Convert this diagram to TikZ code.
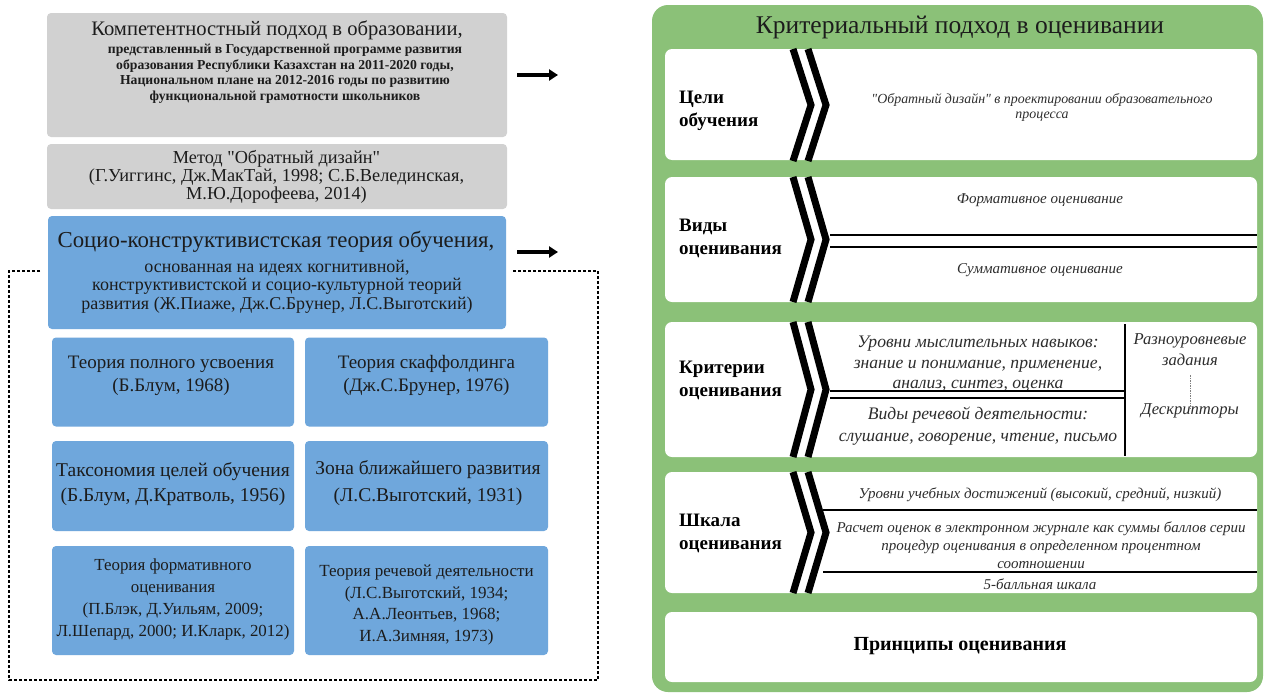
\documentclass[tikz,border=0pt]{standalone}
\usepackage{fontspec}
\setmainfont{Liberation Serif}[Ligatures=TeXOff]
\usetikzlibrary{arrows.meta}
\definecolor{gbox}{RGB}{209,209,209}
\definecolor{bbox}{RGB}{111,167,220}
\definecolor{grn}{RGB}{139,193,120}
\definecolor{txt}{RGB}{28,28,28}
\definecolor{itx}{RGB}{45,45,45}
\newcommand\fsz[2]{\fontsize{#1}{#2}\selectfont}
\newcommand\dq{"}
\tikzset{
  graybox/.style={fill=gbox, rounded corners=4pt, inner sep=0pt},
  bluebox/.style={fill=bbox, rounded corners=4pt, inner sep=0pt},
  rowbox/.style={fill=white, rounded corners=7pt, inner sep=0pt, minimum width=592pt},
  txtnode/.style={align=center, inner sep=0pt, text=txt},
  itnode/.style={align=center, inner sep=0pt, text=itx, font=\itshape},
  rowlabel/.style={align=left, anchor=west, inner sep=0pt, text=black, font=\bfseries\fsz{19}{23}},
  chev/.style={line width=7pt, black, miter limit=20},
  sepline/.style={line width=1.6pt, black},
  bigarrow/.style={line width=3.6pt, -{Triangle[length=9pt,width=11pt]}},
  dotline/.style={line width=2.6pt, dash pattern=on 2.6pt off 2.4pt}
}
\begin{document}
\begin{tikzpicture}[x=1pt,y=-1pt]
\useasboundingbox (0,0) rectangle (1273,696);
\fill[white] (0,0) rectangle (1273,696);

% ---------- left column ----------
\node[graybox, minimum width=460pt, minimum height=124pt] (g1) at (277,75) {};
\node[txtnode, font=\fsz{20.6}{24}] (g1t) at (277,30) {Компетентностный подход в образовании,};
\node[txtnode, font=\bfseries\fsz{13.7}{15.5}] (g1s) at (285,74)
  {представленный в Государственной программе развития\\
   образования Республики Казахстан на 2011-2020 годы,\\
   Национальном плане на 2012-2016 годы по развитию\\
   функциональной грамотности школьников};

\node[graybox, minimum width=460pt, minimum height=65pt] (g2) at (277,176.5) {};
\node[txtnode, font=\fsz{18.3}{18}] (g2t) at (276.5,177)
  {Метод \dq Обратный дизайн\dq\\
   (Г.Уиггинс, Дж.МакТай, 1998; С.Б.Велединская,\\
   М.Ю.Дорофеева, 2014)};

\node[bluebox, minimum width=458pt, minimum height=113pt] (b0) at (277,272.5) {};
\node[txtnode, font=\fsz{22.8}{25}] (b0t) at (276,242) {Социо-конструктивистская теория обучения,};
\node[txtnode, font=\fsz{18}{18.3}] (b0s) at (277,286.5)
  {основанная на идеях когнитивной,\\
   конструктивистской и социо-культурной теорий\\
   развития (Ж.Пиаже, Дж.С.Брунер, Л.С.Выготский)};

\node[bluebox, minimum width=242pt, minimum height=89pt] (b1) at (173,382) {};
\node[txtnode, font=\fsz{19}{23}] (b1t) at (171,376) {Теория полного усвоения\\(Б.Блум, 1968)};
\node[bluebox, minimum width=243pt, minimum height=89pt] (b2) at (426.5,382) {};
\node[txtnode, font=\fsz{19}{23}] (b2t) at (426.5,375) {Теория скаффолдинга\\(Дж.С.Брунер, 1976)};

\node[bluebox, minimum width=242pt, minimum height=90pt] (b3) at (173,486) {};
\node[txtnode, font=\fsz{19.5}{25}] (b3t) at (173,484.5) {Таксономия целей обучения\\(Б.Блум, Д.Кратволь, 1956)};
\node[bluebox, minimum width=243pt, minimum height=90pt] (b4) at (426.5,486) {};
\node[txtnode, font=\fsz{19.5}{27}] (b4t) at (428,483) {Зона ближайшего развития\\(Л.С.Выготский, 1931)};

\node[bluebox, minimum width=242pt, minimum height=109pt] (b5) at (173,600.5) {};
\node[txtnode, font=\fsz{16.9}{22}] (b5t) at (173,599)
  {Теория формативного\\оценивания\\(П.Блэк, Д.Уильям, 2009;\\Л.Шепард, 2000; И.Кларк, 2012)};
\node[bluebox, minimum width=243pt, minimum height=109pt] (b6) at (426.5,600.5) {};
\node[txtnode, font=\fsz{17}{21.5}] (b6t) at (426.5,605)
  {Теория речевой деятельности\\(Л.С.Выготский, 1934;\\А.А.Леонтьев, 1968;\\И.А.Зимняя, 1973)};

% dotted frame
\coordinate (d1) at (40,271);
\coordinate (d2) at (9,271);
\coordinate (d3) at (9,680);
\coordinate (d4) at (598,680);
\coordinate (d5) at (598,271);
\coordinate (d6) at (512,271);
\draw[dotline] (d1) -- (d2) -- (d3) -- (d4) -- (d5) -- (d6);

% arrows
\coordinate (a1s) at (517,75);
\coordinate (a1e) at (558,75);
\coordinate (a2s) at (517,252);
\coordinate (a2e) at (558,252);
\draw[bigarrow] (a1s) -- (a1e);
\draw[bigarrow] (a2s) -- (a2e);

% ---------- right panel ----------
\node[fill=grn, rounded corners=16pt, minimum width=611pt, minimum height=687pt, inner sep=0pt] (panel) at (957.5,348.5) {};
\node[txtnode, font=\fsz{25.5}{26}] (title) at (960,27) {Критериальный подход в оценивании};

\node[rowbox, minimum height=111pt] (r1) at (961,104.5) {};
\node[rowbox, minimum height=125pt] (r2) at (961,239.5) {};
\node[rowbox, minimum height=135pt] (r3) at (961,389.5) {};
\node[rowbox, minimum height=121pt] (r4) at (961,532.5) {};
\node[rowbox, minimum height=70pt] (r5) at (961,647) {};

% chevrons
\foreach \t/\b in {49/161, 177/302, 322/457, 472/593}{
  \pgfmathsetmacro{\m}{(\t+\b)/2}
  \draw[chev] (793,\t) -- (811,\m) -- (793,\b);
  \draw[chev] (808,\t) -- (826,\m) -- (808,\b);
}

% row labels
\node[rowlabel] (l1) at (679,111) {Цели\\обучения};
\node[rowlabel] (l2) at (679,238.5) {Виды\\оценивания};
\node[rowlabel] (l3) at (679,380) {Критерии\\оценивания};
\node[rowlabel] (l4) at (679,533) {Шкала\\оценивания};

% row 1
\node[itnode, font=\itshape\fsz{13.9}{15.5}] (c1) at (1042,107.5)
  {\dq Обратный дизайн\dq\ в проектировании образовательного\\процесса};

% row 2
\node[itnode, font=\itshape\fsz{15}{18}] (c2a) at (1040,200) {Формативное оценивание};
\node[itnode, font=\itshape\fsz{15}{18}] (c2b) at (1040,270) {Суммативное оценивание};
\coordinate (h2a) at (830,235);
\coordinate (h2b) at (1257,235);
\coordinate (h2c) at (830,247);
\coordinate (h2d) at (1257,247);
\draw[sepline] (h2a) -- (h2b);
\draw[sepline] (h2c) -- (h2d);

% row 3
\node[itnode, font=\itshape\fsz{17.6}{20.5}] (c3a) at (978,364)
  {Уровни мыслительных навыков:\\знание и понимание, применение,\\анализ, синтез, оценка};
\node[itnode, font=\itshape\fsz{17.6}{21.5}] (c3b) at (978,426)
  {Виды речевой деятельности:\\слушание, говорение, чтение, письмо};
\node[itnode, font=\itshape\fsz{16.6}{21}] (c3c) at (1190,350) {Разноуровневые\\задания};
\node[itnode, font=\itshape\fsz{16.6}{18}] (c3d) at (1190,411) {Дескрипторы};
\coordinate (h3a) at (830,391);
\coordinate (h3b) at (1125,391);
\coordinate (h3c) at (830,398);
\coordinate (h3d) at (1125,398);
\coordinate (v3a) at (1125,324);
\coordinate (v3b) at (1125,456);
\draw[sepline] (h3a) -- (h3b);
\draw[sepline] (h3c) -- (h3d);
\draw[sepline] (v3a) -- (v3b);
\draw[gray, line width=0.6pt, dash pattern=on 1.5pt off 1pt] (c3c.south) ++(0,9) -- ([yshift=-5pt]c3d.north);

% row 4
\node[itnode, font=\itshape\fsz{15}{18}] (c4a) at (1040,495) {Уровни учебных достижений (высокий, средний, низкий)};
\node[itnode, font=\itshape\fsz{15}{18}] (c4b) at (1041,545)
  {Расчет оценок в электронном журнале как суммы баллов серии\\процедур оценивания в определенном процентном\\соотношении};
\node[itnode, font=\itshape\fsz{15}{18}] (c4c) at (1040,584) {5-балльная шкала};
\coordinate (h4a) at (823,510);
\coordinate (h4b) at (1257,510);
\coordinate (h4c) at (823,572);
\coordinate (h4d) at (1257,572);
\draw[sepline] (h4a) -- (h4b);
\draw[sepline] (h4c) -- (h4d);

% row 5
\node[txtnode, font=\bfseries\fsz{20}{24}, text=black] (c5) at (960,646) {Принципы оценивания};
\end{tikzpicture}
\end{document}
